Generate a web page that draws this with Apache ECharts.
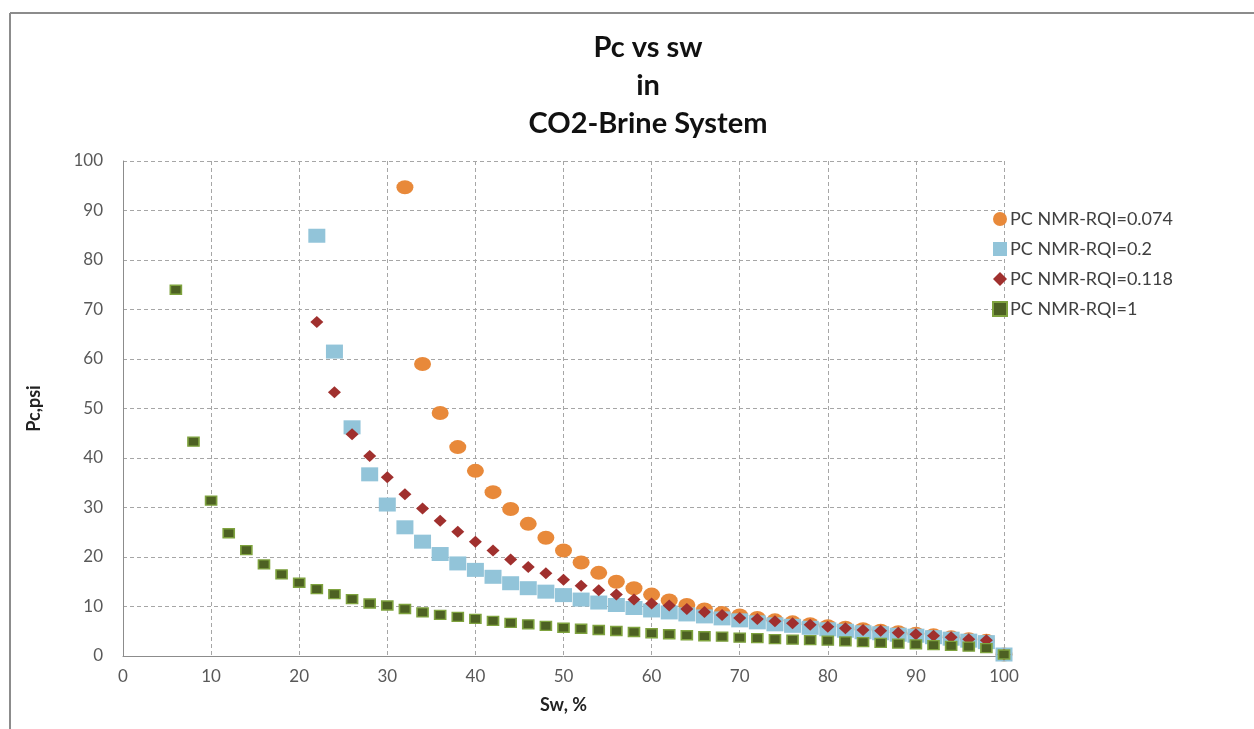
<!DOCTYPE html>
<html>
<head>
<meta charset="utf-8">
<script src="https://cdn.jsdelivr.net/npm/echarts@6/dist/echarts.min.js"></script>
<style>
  html, body { margin: 0; padding: 0; background: #ffffff; }
  #chart { width: 1254px; height: 729px; }
</style>
</head>
<body>
<div id="chart"></div>
<script>
// ---- data ----
const titleLines = ['Pc vs sw', 'in', 'CO2-Brine System'];
const xAxisTitle = 'Sw, %';
const yAxisTitle = 'Pc,psi';

const seriesNames = ['PC NMR-RQI=0.074', 'PC NMR-RQI=0.2', 'PC NMR-RQI=0.118', 'PC NMR-RQI=1'];

const swOrange = [32, 34, 36, 38, 40, 42, 44, 46, 48, 50, 52, 54, 56, 58, 60, 62, 64, 66, 68, 70, 72, 74, 76, 78, 80, 82, 84, 86, 88, 90, 92, 94, 96, 98, 100];
const pcOrange = [94.7, 59.0, 49.1, 42.2, 37.4, 33.1, 29.7, 26.7, 23.9, 21.3, 18.9, 16.8, 15.0, 13.7, 12.4, 11.2, 10.3, 9.4, 8.7, 8.2, 7.7, 7.2, 6.8, 6.4, 6.0, 5.7, 5.4, 5.1, 4.8, 4.5, 4.2, 3.8, 3.4, 3.1, 0.3];

const swCyan = [22, 24, 26, 28, 30, 32, 34, 36, 38, 40, 42, 44, 46, 48, 50, 52, 54, 56, 58, 60, 62, 64, 66, 68, 70, 72, 74, 76, 78, 80, 82, 84, 86, 88, 90, 92, 94, 96, 98, 100];
const pcCyan = [84.9, 61.5, 46.2, 36.7, 30.6, 26.0, 23.1, 20.6, 18.7, 17.4, 16.0, 14.7, 13.7, 13.0, 12.3, 11.4, 10.8, 10.3, 9.7, 9.2, 8.8, 8.4, 8.0, 7.6, 7.2, 6.8, 6.4, 6.1, 5.7, 5.4, 5.1, 4.8, 4.6, 4.3, 4.1, 3.8, 3.5, 3.1, 2.8, 0.3];

const swRed = [22, 24, 26, 28, 30, 32, 34, 36, 38, 40, 42, 44, 46, 48, 50, 52, 54, 56, 58, 60, 62, 64, 66, 68, 70, 72, 74, 76, 78, 80, 82, 84, 86, 88, 90, 92, 94, 96, 98, 100];
const pcRed = [67.5, 53.3, 44.8, 40.4, 36.1, 32.7, 29.8, 27.3, 25.1, 23.1, 21.3, 19.5, 18.0, 16.7, 15.4, 14.2, 13.3, 12.4, 11.4, 10.6, 10.2, 9.5, 8.9, 8.3, 7.7, 7.5, 7.0, 6.6, 6.3, 5.9, 5.6, 5.25, 5.1, 4.7, 4.4, 4.1, 3.8, 3.4, 3.2, 0.3];

const swGreen = [6, 8, 10, 12, 14, 16, 18, 20, 22, 24, 26, 28, 30, 32, 34, 36, 38, 40, 42, 44, 46, 48, 50, 52, 54, 56, 58, 60, 62, 64, 66, 68, 70, 72, 74, 76, 78, 80, 82, 84, 86, 88, 90, 92, 94, 96, 98, 100];
const pcGreen = [74.0, 43.3, 31.4, 24.8, 21.4, 18.5, 16.5, 14.8, 13.5, 12.5, 11.5, 10.6, 10.2, 9.5, 8.8, 8.3, 7.9, 7.5, 7.1, 6.7, 6.4, 6.1, 5.7, 5.5, 5.25, 5.05, 4.85, 4.6, 4.4, 4.2, 4.0, 3.9, 3.7, 3.6, 3.4, 3.3, 3.2, 3.1, 2.95, 2.8, 2.65, 2.5, 2.35, 2.2, 2.05, 1.9, 1.6, 0.3];

function pairs(xs, ys) { return xs.map((x, i) => [x, ys[i]]); }

const FONT = 'Lato';
const chart = echarts.init(document.getElementById('chart'), null, { renderer: 'canvas' });

const gridLine = { show: true, lineStyle: { color: '#a6a6a6', type: [4, 3], width: 1 } };

const titleY = [48, 86, 124];
const titleGraphics = titleLines.map((t, i) => ({
  type: 'text',
  x: 648,
  y: titleY[i],
  style: {
    text: t,
    fontFamily: FONT, fontWeight: 'bold', fontSize: 29,
    fill: '#111111',
    align: 'center', verticalAlign: 'middle'
  }
}));

chart.setOption({
  animation: false,
  backgroundColor: '#ffffff',
  graphic: [
    { type: 'line', shape: { x1: 10, y1: 13, x2: 1254, y2: 13 }, style: { stroke: '#8c8c8c', lineWidth: 2 } },
    { type: 'line', shape: { x1: 10, y1: 13, x2: 10, y2: 729 }, style: { stroke: '#8c8c8c', lineWidth: 2 } }
  ].concat(titleGraphics),
  legend: {
    orient: 'vertical',
    left: 987,
    top: 205,
    itemGap: 12,
    itemWidth: 14,
    itemHeight: 14,
    textStyle: { fontFamily: FONT, fontSize: 18, color: '#404040', padding: [0, 0, 0, -2] },
    data: seriesNames
  },
  grid: { left: 123, right: 250, top: 161, bottom: 73 },
  xAxis: {
    type: 'value',
    min: 0, max: 100, interval: 10,
    name: xAxisTitle,
    nameLocation: 'middle',
    nameGap: 40,
    nameTextStyle: { fontFamily: FONT, fontWeight: 'bold', fontSize: 18, color: '#222222' },
    axisLine: { show: true, lineStyle: { color: '#8c8c8c', width: 1 } },
    axisTick: { show: false },
    axisLabel: { fontFamily: FONT, fontSize: 17, color: '#595959', margin: 12 },
    splitLine: gridLine
  },
  yAxis: {
    type: 'value',
    min: 0, max: 100, interval: 10,
    name: yAxisTitle,
    nameLocation: 'middle',
    nameGap: 80,
    nameRotate: 90,
    nameTextStyle: { fontFamily: FONT, fontWeight: 'bold', fontSize: 18, color: '#222222' },
    axisLine: { show: true, lineStyle: { color: '#8c8c8c', width: 1 } },
    axisTick: { show: false },
    axisLabel: { fontFamily: FONT, fontSize: 17, color: '#595959', margin: 20 },
    splitLine: gridLine
  },
  series: [
    {
      name: seriesNames[0], type: 'scatter', symbol: 'circle', symbolSize: [17, 14],
      itemStyle: { color: '#e8893a', opacity: 1 },
      data: pairs(swOrange, pcOrange), z: 2
    },
    {
      name: seriesNames[1], type: 'scatter', symbol: 'rect', symbolSize: [17, 14],
      itemStyle: { color: '#92c4d9', opacity: 1 },
      data: pairs(swCyan, pcCyan), z: 3
    },
    {
      name: seriesNames[2], type: 'scatter', symbol: 'diamond', symbolSize: [13, 12],
      itemStyle: { color: '#a0302e', opacity: 1 },
      data: pairs(swRed, pcRed), z: 4
    },
    {
      name: seriesNames[3], type: 'scatter', symbol: 'rect', symbolSize: [11, 9],
      itemStyle: { color: '#4d6123', borderColor: '#7fa33f', borderWidth: 1.5, opacity: 1 },
      data: pairs(swGreen, pcGreen), z: 5
    }
  ]
});
</script>
</body>
</html>
